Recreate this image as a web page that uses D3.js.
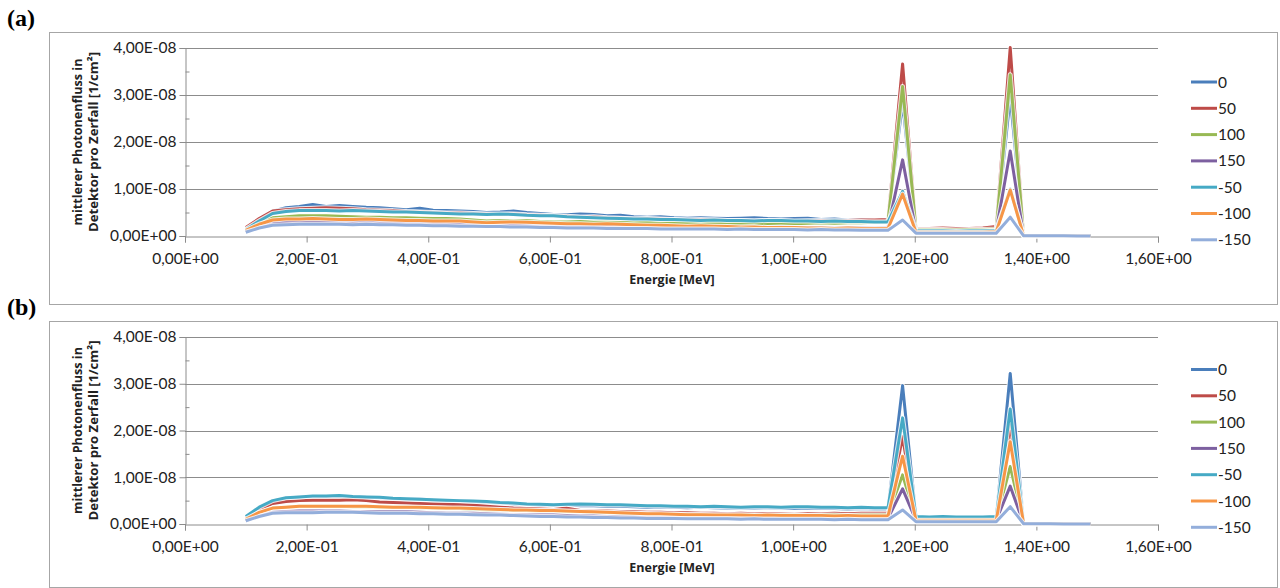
<!DOCTYPE html>
<html>
<head>
<meta charset="utf-8">
<script src="https://cdn.jsdelivr.net/npm/d3@7"></script>
<style>
  body { margin: 0; background: #fff; }
  svg { display: block; }
</style>
</head>
<body>
<svg id="chart" width="1280" height="588"></svg>
<script>
// Energy bin centres [MeV]
const energies = [
  0.100, 0.122, 0.144, 0.166, 0.188, 0.210, 0.232, 0.254, 0.276, 0.298,
  0.320, 0.342, 0.364, 0.386, 0.408, 0.430, 0.452, 0.474, 0.496, 0.518,
  0.540, 0.562, 0.584, 0.606, 0.628, 0.650, 0.672, 0.694, 0.716, 0.738,
  0.760, 0.782, 0.804, 0.826, 0.848, 0.870, 0.892, 0.914, 0.936, 0.958,
  0.980, 1.002, 1.024, 1.046, 1.068, 1.090, 1.112, 1.134, 1.156, 1.180,
  1.202, 1.224, 1.246, 1.268, 1.290, 1.312, 1.334, 1.357, 1.379, 1.401,
  1.423, 1.445, 1.467, 1.489
];

const seriesLabels = ["0", "50", "100", "150", "-50", "-100", "-150"];

// Mean photon flux per decay, in units of 1E-09 1/cm², panel (a)
const a0 = [1.6,3.6,5.3,6.0,6.3,6.7,6.3,6.5,6.3,6.1, 6.0,5.8,5.6,5.9,5.5,5.4,5.3,5.2,5.0,5.1,
  5.3,5.0,4.8,4.6,4.5,4.7,4.6,4.3,4.4,4.1, 4.0,4.1,3.9,3.8,3.9,3.8,3.7,3.8,3.9,3.7,
  3.6,3.7,3.8,3.5,3.6,3.4,3.5,3.3,3.4,28.5, 1.4,1.3,1.3,1.2,1.3,1.3,1.4,29.6,0.10,0.05,
  0.05,0.04,0.04,0.03];
const a50 = [1.8,3.7,5.3,5.6,5.8,5.9,6.0,5.9,5.8,5.6, 5.5,5.4,5.2,5.1,5.0,4.9,4.9,4.8,4.7,4.6,
  4.7,4.5,4.4,4.3,4.2,4.0,4.1,3.9,3.8,3.6, 3.7,3.6,3.5,3.4,3.5,3.4,3.3,3.3,3.2,3.3,
  3.2,3.1,3.2,3.3,3.2,3.3,3.4,3.4,3.5,36.6, 1.6,1.6,1.7,1.6,1.6,1.7,2.0,40.1,0.10,0.05,
  0.05,0.04,0.04,0.03];
const a100 = [1.3,2.8,3.9,4.1,4.3,4.3,4.3,4.2,4.1,4.0, 4.0,3.9,3.9,3.8,3.7,3.7,3.6,3.4,3.2,3.3,
  3.2,3.3,3.1,3.0,3.0,3.1,2.9,3.0,2.9,2.8, 2.9,2.7,2.8,2.7,2.8,2.7,2.6,2.7,2.7,2.6,
  2.7,2.6,2.7,2.8,2.7,2.8,2.8,2.9,3.0,31.8, 1.4,1.4,1.4,1.3,1.4,1.4,1.5,34.3,0.10,0.05,
  0.05,0.04,0.04,0.03];
const a150 = [0.9,1.9,2.7,2.9,3.0,3.0,2.9,3.0,2.9,2.9, 2.8,2.8,2.8,2.7,2.7,2.6,2.5,2.4,2.3,2.3,
  2.3,2.2,2.1,2.1,2.1,2.0,2.1,2.0,2.0,2.0, 1.9,2.0,1.9,1.9,1.8,1.9,1.9,1.8,1.9,1.8,
  1.9,1.8,1.8,1.8,1.7,1.8,1.8,1.7,1.8,16.2, 1.0,1.0,1.0,1.0,0.9,1.0,1.1,18.1,0.08,0.04,
  0.04,0.03,0.03,0.03];
const aM50 = [1.4,3.2,4.8,5.2,5.4,5.4,5.4,5.3,5.4,5.3, 5.2,5.1,5.1,5.0,4.9,4.8,4.7,4.7,4.6,4.7,
  4.6,4.4,4.3,4.3,4.1,4.0,3.9,3.8,3.7,3.6, 3.6,3.5,3.5,3.4,3.3,3.4,3.3,3.3,3.2,3.3,
  3.3,3.2,3.2,3.1,3.2,3.1,3.1,3.0,3.0,9.5, 1.1,1.1,1.1,1.0,1.1,1.1,1.2,10.0,0.08,0.04,
  0.04,0.03,0.03,0.03];
const aM100 = [1.2,2.5,3.4,3.6,3.6,3.7,3.6,3.5,3.5,3.6, 3.5,3.4,3.3,3.3,3.2,3.2,3.2,3.0,2.8,2.9,
  3.0,2.9,2.8,2.7,2.6,2.6,2.5,2.6,2.5,2.4, 2.3,2.3,2.2,2.1,2.2,2.1,2.0,1.9,1.9,1.8,
  1.8,1.8,1.7,1.7,1.6,1.7,1.6,1.6,1.6,8.9, 0.8,0.8,0.8,0.8,0.8,0.8,0.9,9.8,0.06,0.04,
  0.03,0.03,0.03,0.02];
const aM150 = [0.8,1.7,2.3,2.4,2.5,2.5,2.5,2.5,2.4,2.5, 2.4,2.4,2.3,2.3,2.2,2.2,2.1,2.1,2.0,2.0,
  1.9,1.9,1.8,1.8,1.7,1.7,1.7,1.6,1.6,1.6, 1.6,1.5,1.5,1.5,1.5,1.5,1.4,1.5,1.4,1.4,
  1.4,1.4,1.3,1.4,1.3,1.3,1.2,1.2,1.2,3.4, 0.6,0.6,0.6,0.6,0.6,0.6,0.6,4.0,0.05,0.04,
  0.03,0.03,0.02,0.02];

// Mean photon flux per decay, in units of 1E-09 1/cm², panel (b)
const b0 = [1.5,3.4,4.9,5.5,5.8,5.9,5.9,6.0,5.9,5.7, 5.6,5.4,5.3,5.4,5.1,5.0,4.9,4.8,4.6,4.5,
  4.3,4.2,4.0,4.0,4.1,3.9,3.9,3.8,3.8,3.7, 3.6,3.7,3.6,3.5,3.6,3.5,3.4,3.5,3.4,3.5,
  3.4,3.3,3.4,3.3,3.3,3.2,3.3,3.2,3.2,29.6, 1.4,1.4,1.4,1.3,1.3,1.3,1.4,32.2,0.10,0.05,
  0.05,0.04,0.04,0.03];
const b50 = [1.2,2.9,4.4,4.8,5.0,5.1,5.1,5.1,5.2,5.0, 4.7,4.6,4.5,4.4,4.3,4.2,4.1,4.0,3.8,3.6,
  3.4,3.3,3.2,3.1,3.4,2.9,2.8,2.8,2.7,2.6, 2.5,2.5,2.4,2.4,2.3,2.3,2.2,2.3,2.2,2.2,
  2.2,2.1,2.2,2.2,2.3,2.2,2.3,2.3,2.3,18.7, 1.0,1.0,1.0,1.0,0.9,1.0,1.0,21.2,0.08,0.04,
  0.04,0.03,0.03,0.03];
const b100 = [1.0,2.4,3.4,3.6,3.8,3.8,3.8,3.8,3.7,3.7, 3.6,3.6,3.6,3.5,3.4,3.3,3.3,3.1,3.0,3.0,
  2.9,2.9,2.8,2.8,2.7,2.6,2.5,2.4,2.3,2.2, 2.2,2.1,2.1,2.0,2.0,1.9,1.9,1.9,1.9,1.8,
  1.9,1.9,1.8,1.9,1.9,1.8,1.9,1.9,1.9,10.5, 0.9,0.9,0.9,0.9,0.9,0.9,0.9,12.3,0.07,0.04,
  0.03,0.03,0.03,0.02];
const b150 = [0.7,1.8,2.5,2.7,2.8,2.8,2.8,2.8,2.7,2.7, 2.6,2.6,2.6,2.5,2.4,2.3,2.3,2.3,2.2,2.1,
  2.0,1.9,1.9,1.9,1.8,1.7,1.7,1.6,1.5,1.5, 1.4,1.4,1.4,1.3,1.3,1.3,1.3,1.3,1.2,1.3,
  1.3,1.2,1.2,1.3,1.2,1.2,1.3,1.2,1.2,7.5, 0.8,0.8,0.8,0.8,0.8,0.8,0.8,8.1,0.06,0.03,
  0.03,0.03,0.02,0.02];
const bM50 = [1.6,3.6,5.0,5.6,5.8,6.0,6.0,6.1,5.9,5.8, 5.7,5.5,5.4,5.3,5.2,5.1,5.0,4.9,4.8,4.6,
  4.5,4.3,4.2,4.1,4.2,4.3,4.2,4.1,4.1,4.0, 3.9,3.9,3.8,3.8,3.7,3.8,3.7,3.6,3.7,3.7,
  3.6,3.7,3.7,3.6,3.6,3.5,3.6,3.5,3.5,22.7, 1.6,1.5,1.6,1.5,1.5,1.5,1.6,24.6,0.10,0.05,
  0.04,0.04,0.03,0.03];
const bM100 = [1.0,2.5,3.4,3.6,3.8,3.8,3.8,3.8,3.8,3.8, 3.7,3.6,3.6,3.6,3.5,3.4,3.4,3.3,3.2,3.1,
  3.0,3.0,2.9,2.9,2.8,2.7,2.6,2.5,2.4,2.3, 2.2,2.2,2.1,2.0,2.0,1.9,1.9,1.9,1.8,1.9,
  1.8,1.8,1.8,1.8,1.7,1.8,1.7,1.7,1.7,14.5, 0.8,0.8,0.8,0.8,0.8,0.8,0.8,17.6,0.06,0.03,
  0.03,0.03,0.02,0.02];
const bM150 = [0.7,1.6,2.3,2.4,2.4,2.4,2.5,2.5,2.5,2.4, 2.3,2.3,2.3,2.2,2.2,2.1,2.1,2.0,1.9,1.9,
  1.8,1.7,1.6,1.6,1.5,1.5,1.4,1.4,1.3,1.3, 1.2,1.2,1.2,1.1,1.1,1.1,1.1,1.0,1.1,1.0,
  1.0,1.0,1.0,1.0,0.9,1.0,0.9,0.9,0.9,3.0, 0.5,0.5,0.5,0.5,0.5,0.5,0.5,3.7,0.05,0.03,
  0.03,0.02,0.02,0.02];

const xTicks = [0, 0.2, 0.4, 0.6, 0.8, 1.0, 1.2, 1.4, 1.6];
const yTicks = [0, 10, 20, 30, 40];      // in 1E-09
const yMinorTicks = [5, 15, 25, 35];
const VALUE_UNIT = 1e-9;

const seriesColors = ["#4A7EBB", "#BE4B48", "#98B954", "#7D60A0", "#46AAC5", "#F79646", "#93AEDB"];

// German-style scientific notation: 4,00E-08
function sciLabel(v) {
  const [m, e] = v.toExponential(2).split("e");
  const sign = e[0] === "-" ? "-" : "+";
  const digits = e.replace(/[+-]/, "").padStart(2, "0");
  return m.replace(".", ",") + "E" + sign + digits;
}

const svg = d3.select("#chart");
const AXIS_GREY = "#8C8C8C";
const TICK_FONT = "Lato, 'Open Sans', sans-serif";

function drawPanel(cfg) {
  const { label, boxTop, boxBottom, plotTop, plotBottom, legendTop, series } = cfg;
  const plotLeft = 185, plotRight = 1158;

  const x = d3.scaleLinear().domain([0, 1.6]).range([plotLeft, plotRight]);
  const y = d3.scaleLinear().domain([0, 40]).range([plotBottom, plotTop]);

  // Panel label
  svg.append("text")
    .attr("x", 7).attr("y", boxTop - 6)
    .attr("font-family", "'Liberation Serif', 'Times New Roman', serif")
    .attr("font-weight", "bold").attr("font-size", 24)
    .text(label);

  // Chart frame
  svg.append("rect")
    .attr("x", 49.5).attr("y", boxTop + 0.5)
    .attr("width", 1228).attr("height", boxBottom - boxTop)
    .attr("fill", "none").attr("stroke", "#A6A6A6").attr("stroke-width", 1);

  const g = svg.append("g");

  // Horizontal gridlines
  g.selectAll("line.grid").data(yTicks.filter(d => d > 0)).join("line")
    .attr("x1", plotLeft).attr("x2", plotRight)
    .attr("y1", d => Math.round(y(d)) + 0.5).attr("y2", d => Math.round(y(d)) + 0.5)
    .attr("stroke", AXIS_GREY).attr("stroke-width", 1);

  // Y axis
  const yAxis = g.append("g")
    .attr("transform", `translate(${plotLeft + 0.5},0)`)
    .call(d3.axisLeft(y).tickValues(yTicks).tickSize(6).tickPadding(3)
      .tickFormat(d => sciLabel(d * VALUE_UNIT)));
  yAxis.select(".domain").attr("stroke", AXIS_GREY);
  yAxis.selectAll(".tick line").attr("stroke", AXIS_GREY);
  yAxis.selectAll(".tick text")
    .attr("font-family", TICK_FONT).attr("font-size", 15.5).attr("fill", "#222");

  // Minor y ticks
  g.append("g")
    .attr("transform", `translate(${plotLeft + 0.5},0)`)
    .call(d3.axisRight(y).tickValues(yMinorTicks).tickSize(4).tickFormat(""))
    .call(s => s.select(".domain").remove())
    .selectAll(".tick line").attr("stroke", AXIS_GREY);

  // X axis
  const xAxis = g.append("g")
    .attr("transform", `translate(0,${plotBottom + 0.5})`)
    .call(d3.axisBottom(x).tickValues(xTicks).tickSize(6).tickPadding(10)
      .tickFormat(d => sciLabel(d)));
  xAxis.select(".domain").attr("stroke", AXIS_GREY);
  xAxis.selectAll(".tick line").attr("stroke", AXIS_GREY);
  xAxis.selectAll(".tick text")
    .attr("font-family", TICK_FONT).attr("font-size", 15.5).attr("fill", "#222");

  // Axis titles
  svg.append("text")
    .attr("x", 672).attr("y", plotBottom + 48)
    .attr("text-anchor", "middle")
    .attr("font-family", "'Open Sans', sans-serif").attr("font-weight", "bold")
    .attr("font-size", 12.5).attr("fill", "#222")
    .text("Energie [MeV]");

  const midY = (plotTop + plotBottom) / 2;
  const titleLines = ["mittlerer Photonenfluss in", "Detektor pro Zerfall [1/cm²]"];
  const titleX = [82, 98];
  const titleLen = [167, 180];
  titleLines.forEach((t, i) => {
    svg.append("text")
      .attr("transform", `translate(${titleX[i]},${midY}) rotate(-90)`)
      .attr("text-anchor", "middle")
      .attr("font-family", "'Open Sans', sans-serif").attr("font-weight", "bold")
      .attr("font-size", 13).attr("fill", "#222")
      .attr("textLength", titleLen[i]).attr("lengthAdjust", "spacingAndGlyphs")
      .text(t);
  });

  // Series lines with a soft white halo
  const line = d3.line()
    .x((d, i) => x(energies[i]))
    .y(d => y(d));

  const sg = g.append("g");
  series.forEach((vals, k) => {
    sg.append("path")
      .attr("d", line(vals))
      .attr("fill", "none")
      .attr("stroke", "#fff").attr("stroke-opacity", 0.8)
      .attr("stroke-width", 5)
      .attr("stroke-linejoin", "round");
    sg.append("path")
      .attr("d", line(vals))
      .attr("fill", "none")
      .attr("stroke", seriesColors[k])
      .attr("stroke-width", 3)
      .attr("stroke-linejoin", "round");
  });

  // Legend
  const lg = svg.append("g");
  seriesLabels.forEach((name, k) => {
    const ly = legendTop + k * 26.3;
    lg.append("line")
      .attr("x1", 1191).attr("x2", 1217)
      .attr("y1", ly).attr("y2", ly)
      .attr("stroke", seriesColors[k]).attr("stroke-width", 3);
    lg.append("text")
      .attr("x", 1218).attr("y", ly).attr("dy", "0.36em")
      .attr("font-family", TICK_FONT).attr("font-size", 15.5).attr("fill", "#222")
      .text(name);
  });
}

drawPanel({
  label: "(a)", boxTop: 32, boxBottom: 304,
  plotTop: 48, plotBottom: 236, legendTop: 82,
  series: [a0, a50, a100, a150, aM50, aM100, aM150]
});

drawPanel({
  label: "(b)", boxTop: 321, boxBottom: 587,
  plotTop: 337, plotBottom: 524, legendTop: 369.5,
  series: [b0, b50, b100, b150, bM50, bM100, bM150]
});
</script>
</body>
</html>
